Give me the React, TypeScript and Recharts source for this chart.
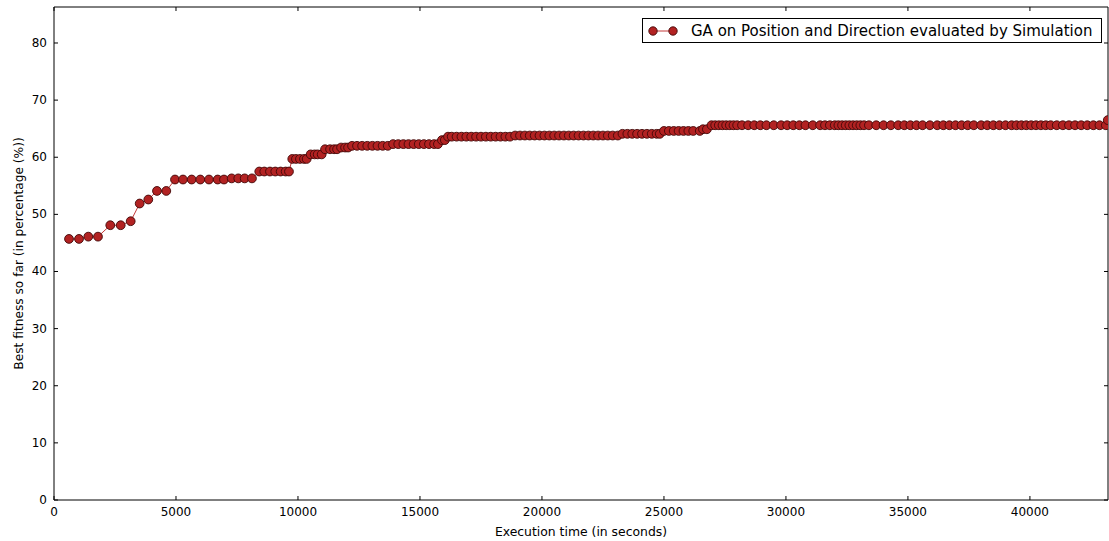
import { LineChart, Line, XAxis, YAxis } from 'recharts';

// execution time of each evaluation (seconds)
const timeSec = [
  615, 1025,
  1406, 1803,
  2307, 2734,
  3143,
  3512,
  3865,
  4221, 4602,
  4959, 5287, 5643, 5996, 6352, 6709, 6967,
  7282, 7553, 7815, 8114,
  8413, 8618, 8852, 9069, 9290, 9495, 9631,
  9766, 9917, 10081, 10245, 10356,
  10520, 10684, 10807, 10971,
  11110, 11315, 11479, 11602,
  11766, 11930, 12053,
  12217, 12420, 12630, 12840, 13050, 13260, 13470, 13680,
  13900, 14110, 14320, 14530, 14740, 14950, 15160, 15370, 15580, 15736,
  15900, 16020,
  16150, 16300, 16500, 16700, 16900, 17100, 17300, 17500, 17700, 17900, 18100, 18300, 18500, 18690,
  18900, 19100, 19300, 19500, 19700, 19900, 20100, 20300, 20500, 20700, 20900,
  21100, 21300, 21500, 21700, 21900, 22100, 22300, 22500, 22700, 22900, 23110,
  23300, 23500, 23700, 23900, 24100, 24300, 24500, 24700, 24830,
  25000, 25200, 25400, 25600, 25800, 26000, 26200, 26470,
  26600, 26760,
  26950, 27100, 27250, 27400, 27550, 27700, 27850, 28000, 28200, 28450,
  28700, 28950, 29200, 29500, 29800, 30050, 30300, 30550, 30800, 31100,
  31400, 31600, 31800, 32000, 32150, 32300, 32450, 32600, 32750, 32900,
  33050, 33200, 33400, 33700, 34000, 34300, 34600, 34850, 35100, 35350,
  35600, 35900, 36200, 36450, 36700, 36950, 37200, 37450, 37700, 38000,
  38250, 38500, 38750, 39000, 39250, 39450, 39650, 39850, 40050, 40250,
  40450, 40650, 40850, 41100, 41350, 41600, 41850, 42100, 42350, 42600,
  42850, 43110,
  43190,
];

// best fitness so far (%)
const bestFitness = [
  45.7, 45.7,
  46.1, 46.1,
  48.1, 48.1,
  48.8,
  51.9,
  52.6,
  54.1, 54.1,
  56.1, 56.1, 56.1, 56.1, 56.1, 56.1, 56.1,
  56.3, 56.3, 56.3, 56.3,
  57.5, 57.5, 57.5, 57.5, 57.5, 57.5, 57.5,
  59.7, 59.7, 59.7, 59.7, 59.7,
  60.5, 60.5, 60.5, 60.5,
  61.4, 61.4, 61.4, 61.4,
  61.7, 61.7, 61.7,
  62.0, 62.0, 62.0, 62.0, 62.0, 62.0, 62.0, 62.0,
  62.3, 62.3, 62.3, 62.3, 62.3, 62.3, 62.3, 62.3, 62.3, 62.3,
  63.0, 63.0,
  63.6, 63.6, 63.6, 63.6, 63.6, 63.6, 63.6, 63.6, 63.6, 63.6, 63.6, 63.6, 63.6, 63.6,
  63.8, 63.8, 63.8, 63.8, 63.8, 63.8, 63.8, 63.8, 63.8, 63.8, 63.8,
  63.8, 63.8, 63.8, 63.8, 63.8, 63.8, 63.8, 63.8, 63.8, 63.8, 63.8,
  64.1, 64.1, 64.1, 64.1, 64.1, 64.1, 64.1, 64.1, 64.1,
  64.6, 64.6, 64.6, 64.6, 64.6, 64.6, 64.6, 64.6,
  64.9, 64.9,
  65.6, 65.6, 65.6, 65.6, 65.6, 65.6, 65.6, 65.6, 65.6, 65.6,
  65.6, 65.6, 65.6, 65.6, 65.6, 65.6, 65.6, 65.6, 65.6, 65.6,
  65.6, 65.6, 65.6, 65.6, 65.6, 65.6, 65.6, 65.6, 65.6, 65.6,
  65.6, 65.6, 65.6, 65.6, 65.6, 65.6, 65.6, 65.6, 65.6, 65.6,
  65.6, 65.6, 65.6, 65.6, 65.6, 65.6, 65.6, 65.6, 65.6, 65.6,
  65.6, 65.6, 65.6, 65.6, 65.6, 65.6, 65.6, 65.6, 65.6, 65.6,
  65.6, 65.6, 65.6, 65.6, 65.6, 65.6, 65.6, 65.6, 65.6, 65.6,
  65.6, 65.6,
  66.5,
];

const xTicks = [0, 5000, 10000, 15000, 20000, 25000, 30000, 35000, 40000];
const yTicks = [0, 10, 20, 30, 40, 50, 60, 70, 80];
const seriesName = 'GA on Position and Direction evaluated by Simulation';

const data = timeSec.map((t, i) => ({ t, fitness: bestFitness[i] }));

const FONT = 'DejaVu Sans';
const MARKER = '#b22222';
const EDGE = '#420808';
const LINE = '#c43a3a';

const BottomTick = (props: any) => {
  const { x, y, payload } = props;
  return (
    <g>
      <line x1={x} y1={y} x2={x} y2={y - 4} stroke="#000" />
      <text x={x} y={y + 16} textAnchor="middle" fontSize={12} fontFamily={FONT} fill="#000">
        {payload.value}
      </text>
    </g>
  );
};

const TopTick = (props: any) => {
  const { x, y } = props;
  return <line x1={x} y1={y} x2={x} y2={y + 4} stroke="#000" />;
};

const LeftTick = (props: any) => {
  const { x, y, payload } = props;
  return (
    <g>
      <line x1={x} y1={y} x2={x + 4} y2={y} stroke="#000" />
      <text x={x - 7} y={y + 4} textAnchor="end" fontSize={12} fontFamily={FONT} fill="#000">
        {payload.value}
      </text>
    </g>
  );
};

const RightTick = (props: any) => {
  const { x, y } = props;
  return <line x1={x} y1={y} x2={x - 4} y2={y} stroke="#000" />;
};

export default function App() {
  return (
    <div style={{ position: 'absolute', left: 0, top: 0, width: 1109, height: 541, background: '#fff' }}>
      <LineChart width={1109} height={541} data={data} margin={{ top: 0, right: 0, bottom: 0, left: 0 }}>
        <XAxis
          xAxisId="b"
          dataKey="t"
          type="number"
          domain={[0, 43200]}
          ticks={xTicks}
          interval={0}
          allowDataOverflow
          height={41}
          tickSize={0}
          tickMargin={0}
          tickLine={false}
          axisLine={{ stroke: '#000' }}
          tick={<BottomTick />}
          label={{ value: 'Execution time (in seconds)', position: 'insideBottom', offset: 5, fontSize: 12.4, fill: '#000', fontFamily: FONT }}
        />
        <XAxis
          xAxisId="t"
          orientation="top"
          dataKey="t"
          type="number"
          domain={[0, 43200]}
          ticks={xTicks}
          interval={0}
          allowDataOverflow
          height={7}
          tickSize={0}
          tickMargin={0}
          tickLine={false}
          axisLine={{ stroke: '#000' }}
          tick={<TopTick />}
        />
        <YAxis
          yAxisId="l"
          type="number"
          domain={[0, 86.3]}
          ticks={yTicks}
          interval={0}
          allowDataOverflow
          width={54}
          tickSize={0}
          tickMargin={0}
          tickLine={false}
          axisLine={{ stroke: '#000' }}
          tick={<LeftTick />}
          label={{
            value: 'Best fitness so far (in percentage (%))',
            angle: -90,
            position: 'insideLeft',
            offset: 19,
            fontSize: 12.2,
            fill: '#000',
            fontFamily: FONT,
            style: { textAnchor: 'middle' },
          }}
        />
        <YAxis
          yAxisId="r"
          orientation="right"
          type="number"
          domain={[0, 86.3]}
          ticks={yTicks}
          interval={0}
          allowDataOverflow
          width={1}
          tickSize={0}
          tickMargin={0}
          tickLine={false}
          axisLine={{ stroke: '#000' }}
          tick={<RightTick />}
        />
        <Line
          xAxisId="b"
          yAxisId="l"
          type="linear"
          dataKey="fitness"
          name={seriesName}
          stroke={LINE}
          strokeWidth={1}
          dot={{ r: 4.4, fill: MARKER, stroke: EDGE, strokeWidth: 0.9 }}
          activeDot={false}
          isAnimationActive={false}
        />
      </LineChart>
      <div
        style={{
          position: 'absolute',
          top: 18,
          left: 642,
          width: 458,
          height: 23,
          border: '1px solid #000',
          background: '#fff',
          display: 'flex',
          alignItems: 'center',
          fontFamily: FONT,
          fontSize: 15,
          color: '#000',
          whiteSpace: 'nowrap',
          boxSizing: 'content-box',
        }}
      >
        <svg width={40} height={12} style={{ marginLeft: 5 }}>
          <line x1={5} y1={6} x2={25} y2={6} stroke={LINE} />
          <circle cx={5} cy={6} r={4.2} fill={MARKER} stroke={EDGE} strokeWidth={0.9} />
          <circle cx={25} cy={6} r={4.2} fill={MARKER} stroke={EDGE} strokeWidth={0.9} />
        </svg>
        <span style={{ marginLeft: 3 }}>{seriesName}</span>
      </div>
    </div>
  );
}
